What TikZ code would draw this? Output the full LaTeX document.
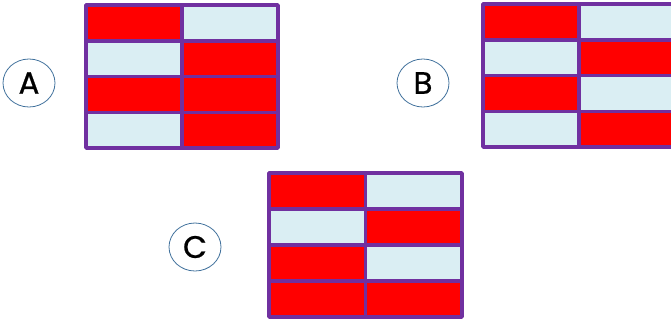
\documentclass[tikz,border=0pt]{standalone}
\usepackage{fontspec}
\newfontfamily\lblfont{Poppins}[FakeBold=0.7]
\usetikzlibrary{shapes.geometric}
\definecolor{grid}{HTML}{7030A0}
\definecolor{lb}{HTML}{DAEEF3}
\definecolor{rd}{HTML}{FF0000}
\definecolor{ring}{HTML}{41719C}
\tikzset{
  lbl/.style={ellipse, draw=ring, line width=0.8pt, minimum width=52pt, minimum height=48pt, inner sep=0pt, font=\lblfont\fontsize{31}{31}\selectfont},
  gridline/.style={draw=grid, line width=3.5pt, line join=round},
}
% #1 left, #2 top, #3 width, #4 height, #5 list of 8 colours (row-wise)
\newcommand{\mygrid}[5]{%
  \foreach \c [count=\i from 0] in {#5} {
    \pgfmathtruncatemacro{\r}{div(\i,2)}
    \pgfmathtruncatemacro{\k}{mod(\i,2)}
    \fill[\c] ({#1+\k*#3/2},{#2+\r*#4/4}) rectangle ({#1+(\k+1)*#3/2},{#2+(\r+1)*#4/4});
  }
  \draw[gridline] (#1,#2) rectangle ({#1+#3},{#2+#4});
  \draw[gridline] ({#1+#3/2},#2) -- ({#1+#3/2},{#2+#4});
  \foreach \r in {1,2,3} { \draw[gridline] (#1,{#2+\r*#4/4}) -- ({#1+#3},{#2+\r*#4/4}); }
}
\begin{document}
\begin{tikzpicture}[x=1pt,y=-1pt]
\useasboundingbox (0,0) rectangle (671,322);
\clip (0,0) rectangle (671,322);
\mygrid{86}{5}{192}{143}{rd,lb,lb,rd,rd,rd,lb,rd}
\mygrid{483}{4}{192}{143}{rd,lb,lb,rd,rd,lb,lb,rd}
\mygrid{269}{173}{193}{144}{rd,lb,lb,rd,rd,lb,rd,rd}
\node[lbl] (A) at (29,83) {A};
\node[lbl] (B) at (423,83) {B};
\node[lbl] (C) at (195,247) {C};
\end{tikzpicture}
\end{document}
